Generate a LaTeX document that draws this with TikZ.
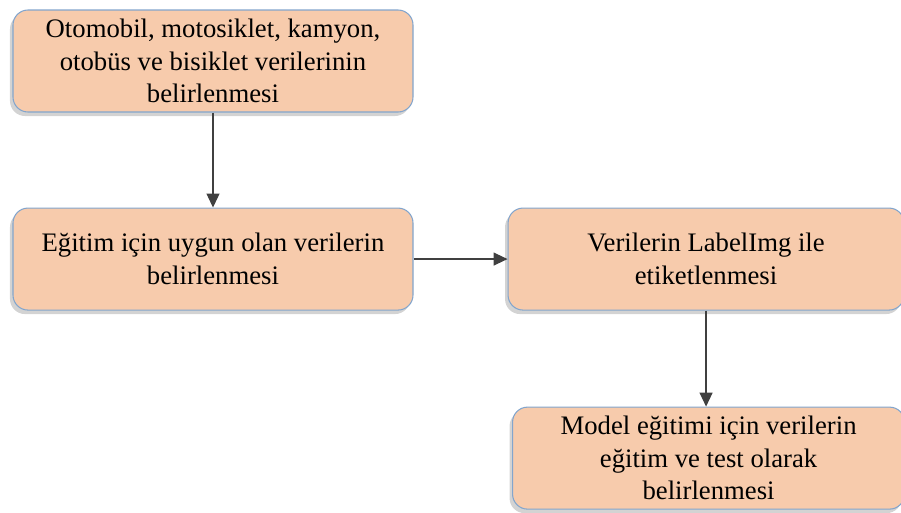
\documentclass[tikz,border=0pt]{standalone}
\usepackage{fontspec}
\setmainfont{Liberation Serif}
\usetikzlibrary{positioning, arrows.meta, shadows}

\definecolor{boxfill}{RGB}{247,203,172}
\definecolor{boxline}{RGB}{130,165,205}

\begin{document}
\begin{tikzpicture}[
  stepbox/.style={draw=boxline, fill=boxfill, rounded corners=3mm, line width=0.6pt,
                  minimum width=8cm, minimum height=2.04cm, align=center,
                  font=\fontsize{15.2}{18.6}\selectfont,
                  drop shadow={shadow xshift=-0.6mm, shadow yshift=-0.8mm, opacity=0.35}},
  arr/.style={-{Triangle[length=2.8mm, width=2.6mm]}, line width=0.7pt, color=black!75}
]
  \useasboundingbox (0,0) rectangle (18.02,-10.24);

  % Steps
  \node[stepbox] (veri) at (4.26,-1.22) {Otomobil, motosiklet, kamyon,\\otobüs ve bisiklet verilerinin\\belirlenmesi};
  \node[stepbox, below=1.9cm of veri] (uygun) {Eğitim için uygun olan verilerin\\belirlenmesi};
  \node[stepbox, right=1.88cm of uygun, minimum width=7.92cm] (etiket) {Verilerin LabelImg ile\\etiketlenmesi};
  \node[stepbox, below=1.92cm of etiket, minimum width=7.84cm, xshift=0.05cm] (model) {Model eğitimi için verilerin\\eğitim ve test olarak\\belirlenmesi};

  % Arrows
  \draw[arr] (veri) -- (uygun);
  \draw[arr] (uygun) -- (etiket);
  \draw[arr] (etiket.south) -- (etiket.south |- model.north);

\end{tikzpicture}
\end{document}
